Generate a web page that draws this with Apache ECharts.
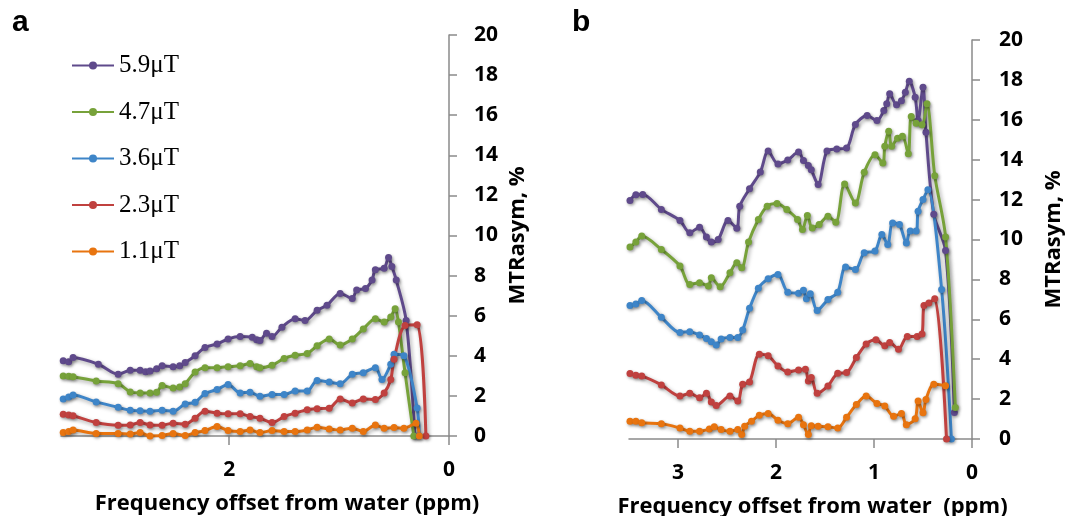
<!DOCTYPE html>
<html>
<head>
<meta charset="utf-8">
<script src="https://cdn.jsdelivr.net/npm/echarts@6/dist/echarts.min.js"></script>
<style>
html,body{margin:0;padding:0;background:#fff;}
#chart{width:1065px;height:516px;}
</style>
</head>
<body>
<div id="chart"></div>
<script>
// Legend / series names
const seriesNames = ['5.9μT', '4.7μT', '3.6μT', '2.3μT', '1.1μT'];

// Panel a : [frequency offset (ppm), MTRasym (%)]
const a59 = [[3.51,3.75],[3.46,3.7],[3.42,3.92],[3.19,3.58],[3.01,3.08],[2.90,3.28],[2.81,3.28],[2.76,3.2],[2.72,3.24],[2.66,3.35],[2.61,3.5],[2.51,3.46],[2.45,3.5],[2.40,3.66],[2.31,4.0],[2.22,4.42],[2.11,4.59],[2.01,4.84],[1.90,4.96],[1.79,4.92],[1.75,4.8],[1.72,4.76],[1.66,5.13],[1.61,4.96],[1.52,5.43],[1.40,5.85],[1.31,5.76],[1.20,6.27],[1.11,6.52],[0.99,7.11],[0.88,6.86],[0.84,7.28],[0.76,7.36],[0.70,7.78],[0.67,8.29],[0.59,8.37],[0.55,8.9],[0.52,8.45],[0.48,7.78],[0.39,5.76],[0.31,0]];
const a47 = [[3.51,2.99],[3.46,2.98],[3.42,2.96],[3.21,2.74],[3.01,2.61],[2.90,2.2],[2.81,2.15],[2.72,2.15],[2.66,2.18],[2.61,2.52],[2.51,2.4],[2.45,2.45],[2.40,2.61],[2.31,3.19],[2.22,3.41],[2.11,3.41],[2.01,3.46],[1.90,3.5],[1.81,3.61],[1.75,3.45],[1.72,3.41],[1.61,3.53],[1.50,3.87],[1.40,4.03],[1.29,4.12],[1.20,4.5],[1.09,4.84],[0.99,4.54],[0.88,4.84],[0.78,5.34],[0.67,5.85],[0.59,5.68],[0.53,5.93],[0.49,6.35],[0.46,5.68],[0.40,3.16],[0.32,0]];
const a36 = [[3.51,1.85],[3.46,1.95],[3.42,2.05],[3.21,1.7],[3.01,1.43],[2.90,1.28],[2.81,1.26],[2.72,1.23],[2.61,1.28],[2.51,1.23],[2.40,1.6],[2.31,1.68],[2.22,2.12],[2.11,2.32],[2.01,2.57],[1.90,2.15],[1.81,2.18],[1.72,1.98],[1.61,2.07],[1.50,2.07],[1.40,2.24],[1.29,2.24],[1.20,2.77],[1.09,2.69],[0.99,2.61],[0.88,3.08],[0.78,3.16],[0.67,3.41],[0.61,2.82],[0.53,3.58],[0.50,4.08],[0.41,4.0],[0.29,1.4],[0.27,0]];
const a23 = [[3.51,1.09],[3.46,1.05],[3.42,1.01],[3.21,0.67],[3.01,0.54],[2.90,0.55],[2.81,0.67],[2.72,0.55],[2.61,0.54],[2.51,0.64],[2.40,0.59],[2.31,0.89],[2.22,1.23],[2.11,1.14],[2.01,1.11],[1.90,1.11],[1.81,0.97],[1.72,0.89],[1.61,0.67],[1.50,0.97],[1.40,1.14],[1.29,1.31],[1.20,1.36],[1.09,1.39],[0.99,1.85],[0.88,1.65],[0.78,1.85],[0.67,1.82],[0.59,2.15],[0.53,2.82],[0.50,3.83],[0.40,5.51],[0.29,5.55],[0.21,0]];
const a11 = [[3.51,0.18],[3.46,0.22],[3.42,0.3],[3.21,0.13],[3.01,0.13],[2.90,0.1],[2.81,0.17],[2.72,0.0],[2.61,0.02],[2.51,0.13],[2.40,0.02],[2.31,0.17],[2.22,0.27],[2.11,0.47],[2.01,0.27],[1.90,0.22],[1.81,0.3],[1.72,0.17],[1.61,0.27],[1.50,0.22],[1.40,0.22],[1.29,0.3],[1.20,0.44],[1.09,0.35],[0.99,0.3],[0.88,0.39],[0.78,0.22],[0.67,0.55],[0.59,0.39],[0.50,0.42],[0.41,0.39],[0.30,0.64],[0.27,0]];

// Panel b : [frequency offset (ppm), MTRasym (%)]
const b59 = [[3.49,11.96],[3.43,12.24],[3.36,12.26],[3.17,11.51],[2.98,10.95],[2.88,10.34],[2.78,10.62],[2.71,10.12],[2.66,9.87],[2.59,10.0],[2.49,10.95],[2.40,10.57],[2.37,11.67],[2.27,12.54],[2.16,13.38],[2.08,14.43],[1.98,13.79],[1.88,13.99],[1.77,14.38],[1.72,13.96],[1.67,13.71],[1.64,13.49],[1.57,12.76],[1.48,14.43],[1.38,14.54],[1.28,14.59],[1.19,15.76],[1.07,16.21],[0.97,15.96],[0.90,16.46],[0.87,16.8],[0.84,17.3],[0.77,16.76],[0.72,16.96],[0.68,17.38],[0.64,17.93],[0.58,17.13],[0.55,15.96],[0.50,17.63],[0.47,15.38],[0.39,11.26],[0.27,9.45],[0.18,1.33]];
const b47 = [[3.49,9.62],[3.43,9.87],[3.37,10.17],[3.17,9.5],[2.98,8.67],[2.88,7.75],[2.78,7.83],[2.69,7.67],[2.66,8.08],[2.57,7.63],[2.47,8.33],[2.40,8.83],[2.35,8.58],[2.28,9.87],[2.18,11.0],[2.09,11.67],[1.99,11.8],[1.89,11.5],[1.78,11.0],[1.73,10.5],[1.68,11.2],[1.63,10.58],[1.56,10.75],[1.47,11.17],[1.39,10.87],[1.30,12.78],[1.19,11.83],[1.10,13.37],[0.99,14.25],[0.91,13.83],[0.89,14.67],[0.85,15.42],[0.82,14.67],[0.76,15.08],[0.71,15.17],[0.65,14.3],[0.62,16.17],[0.57,15.83],[0.51,15.75],[0.46,16.8],[0.38,13.2],[0.27,10.13],[0.17,1.58]];
const b36 = [[3.49,6.69],[3.43,6.77],[3.37,6.94],[3.17,6.1],[2.98,5.34],[2.88,5.38],[2.78,5.21],[2.71,5.04],[2.66,4.87],[2.61,4.71],[2.56,5.01],[2.47,5.09],[2.39,5.09],[2.34,5.46],[2.27,6.55],[2.18,7.56],[2.08,8.03],[1.98,8.24],[1.88,7.36],[1.77,7.31],[1.72,7.45],[1.69,7.03],[1.65,7.28],[1.58,6.44],[1.47,6.99],[1.37,7.36],[1.29,8.62],[1.19,8.5],[1.10,9.33],[0.99,9.42],[0.92,10.25],[0.86,9.75],[0.81,10.83],[0.74,10.75],[0.67,9.83],[0.63,10.42],[0.57,10.42],[0.55,11.42],[0.50,12.0],[0.45,12.5],[0.31,7.5],[0.21,0]];
const b23 = [[3.49,3.28],[3.43,3.19],[3.37,3.16],[3.17,2.71],[2.98,2.15],[2.88,2.29],[2.78,2.07],[2.71,2.29],[2.66,1.85],[2.61,1.68],[2.47,2.15],[2.39,1.9],[2.34,2.74],[2.27,2.86],[2.17,4.25],[2.08,4.17],[1.98,3.66],[1.88,3.36],[1.77,3.46],[1.70,3.5],[1.67,2.91],[1.64,3.08],[1.58,2.29],[1.47,2.66],[1.37,3.29],[1.28,3.33],[1.18,4.08],[1.08,4.76],[0.98,4.97],[0.89,4.67],[0.84,4.84],[0.75,4.5],[0.66,5.14],[0.56,5.14],[0.51,5.26],[0.49,6.69],[0.44,6.82],[0.38,7.03],[0.26,0]];
const b11 = [[3.49,0.89],[3.43,0.89],[3.37,0.81],[3.17,0.77],[2.98,0.55],[2.88,0.39],[2.78,0.39],[2.68,0.5],[2.63,0.61],[2.56,0.47],[2.47,0.39],[2.39,0.47],[2.35,0.22],[2.32,0.64],[2.25,0.89],[2.17,1.19],[2.08,1.28],[1.98,0.94],[1.88,0.77],[1.77,1.09],[1.72,0.72],[1.67,0.22],[1.64,0.67],[1.57,0.64],[1.47,0.61],[1.37,0.55],[1.28,1.09],[1.18,1.73],[1.08,2.15],[0.97,1.78],[0.89,1.65],[0.80,1.14],[0.72,1.28],[0.67,0.72],[0.58,1.01],[0.55,1.9],[0.50,1.31],[0.47,1.98],[0.39,2.74],[0.27,2.67]];

// Axis ticks
const xTicksA = [0, 2];
const xTicksB = [0, 1, 2, 3];

const colors = ['#5F4A8B', '#77A23A', '#3E85C8', '#C0413F', '#E8740F'];
const panelA = [a59, a47, a36, a23, a11];
const panelB = [b59, b47, b36, b23, b11];

const FONT = "'Open Sans', sans-serif";
const AXIS_GREY = '#8a8a8a';

function makeSeries(data, i, gi) {
  return {
    type: 'line',
    name: seriesNames[i],
    xAxisIndex: gi,
    yAxisIndex: gi,
    data: data,
    color: colors[i],
    symbol: 'circle',
    symbolSize: 7,
    smooth: 0.3,
    lineStyle: { width: 3, color: colors[i], shadowColor: 'rgba(0,0,0,0.35)', shadowBlur: 4, shadowOffsetX: 1.5, shadowOffsetY: 2 },
    itemStyle: { color: colors[i], shadowColor: 'rgba(0,0,0,0.35)', shadowBlur: 3, shadowOffsetX: 1, shadowOffsetY: 1.5 },
    emphasis: { disabled: true }
  };
}

function makeX(gi, max, ticks, padLeft) {
  return {
    gridIndex: gi, type: 'value', min: 0, max: max, inverse: true, interval: 1,
    axisLine: { onZero: false, lineStyle: { color: AXIS_GREY, width: 1.5 } },
    axisTick: { show: true, length: 9, customValues: ticks, lineStyle: { color: AXIS_GREY, width: 1.5 } },
    axisLabel: { customValues: ticks, fontFamily: FONT, fontWeight: 'bold', fontSize: 21, color: '#000', margin: 24 },
    splitLine: { show: false },
    name: gi === 0 ? 'Frequency offset from water (ppm)' : 'Frequency offset from water  (ppm)',
    nameLocation: 'middle', nameGap: 57,
    nameTextStyle: { fontFamily: FONT, fontWeight: 'bold', fontSize: 22, color: '#000', padding: [0, 0, 0, padLeft] }
  };
}

function makeY(gi, gap, margin) {
  return {
    gridIndex: gi, type: 'value', position: 'right', min: 0, max: 20, interval: 2,
    axisLine: { show: true, onZero: false, lineStyle: { color: AXIS_GREY, width: 1.5 } },
    axisTick: { show: true, length: 8, lineStyle: { color: AXIS_GREY, width: 1.5 } },
    axisLabel: { fontFamily: FONT, fontWeight: 'bold', fontSize: 21, color: '#000', margin: margin },
    splitLine: { show: false },
    name: 'MTRasym, %', nameLocation: 'middle', nameRotate: 90, nameGap: gap,
    nameTextStyle: { fontFamily: FONT, fontWeight: 'bold', fontSize: 22, color: '#000' }
  };
}

const chart = echarts.init(document.getElementById('chart'), null, { renderer: 'canvas' });
chart.setOption({
  animation: false,
  backgroundColor: '#fff',
  legend: {
    data: seriesNames,
    orient: 'vertical', left: 71, top: 53, padding: 0,
    itemWidth: 42, itemHeight: 10, itemGap: 21.5,
    textStyle: { fontFamily: "'Liberation Serif', serif", fontSize: 25, lineHeight: 24, color: '#000' },
    selectedMode: false
  },
  grid: [
    { left: 61, right: 616, top: 35, bottom: 80, outerBoundsMode: 'none', containLabel: false },
    { left: 629, right: 93, top: 40, bottom: 77, outerBoundsMode: 'none', containLabel: false }
  ],
  xAxis: [makeX(0, 3.53, xTicksA, 64), makeX(1, 3.5, xTicksB, 24)],
  yAxis: [makeY(0, 58, 25), makeY(1, 71, 27)],
  series: panelA.map((d, i) => makeSeries(d, i, 0)).concat(panelB.map((d, i) => makeSeries(d, i, 1))),
  graphic: [
    { type: 'text', left: 12, top: 8, style: { text: 'a', font: "bold 30px 'Liberation Sans', sans-serif", fill: '#000' } },
    { type: 'text', left: 572, top: 8, style: { text: 'b', font: "bold 30px 'Liberation Sans', sans-serif", fill: '#000' } }
  ]
});
</script>
</body>
</html>
